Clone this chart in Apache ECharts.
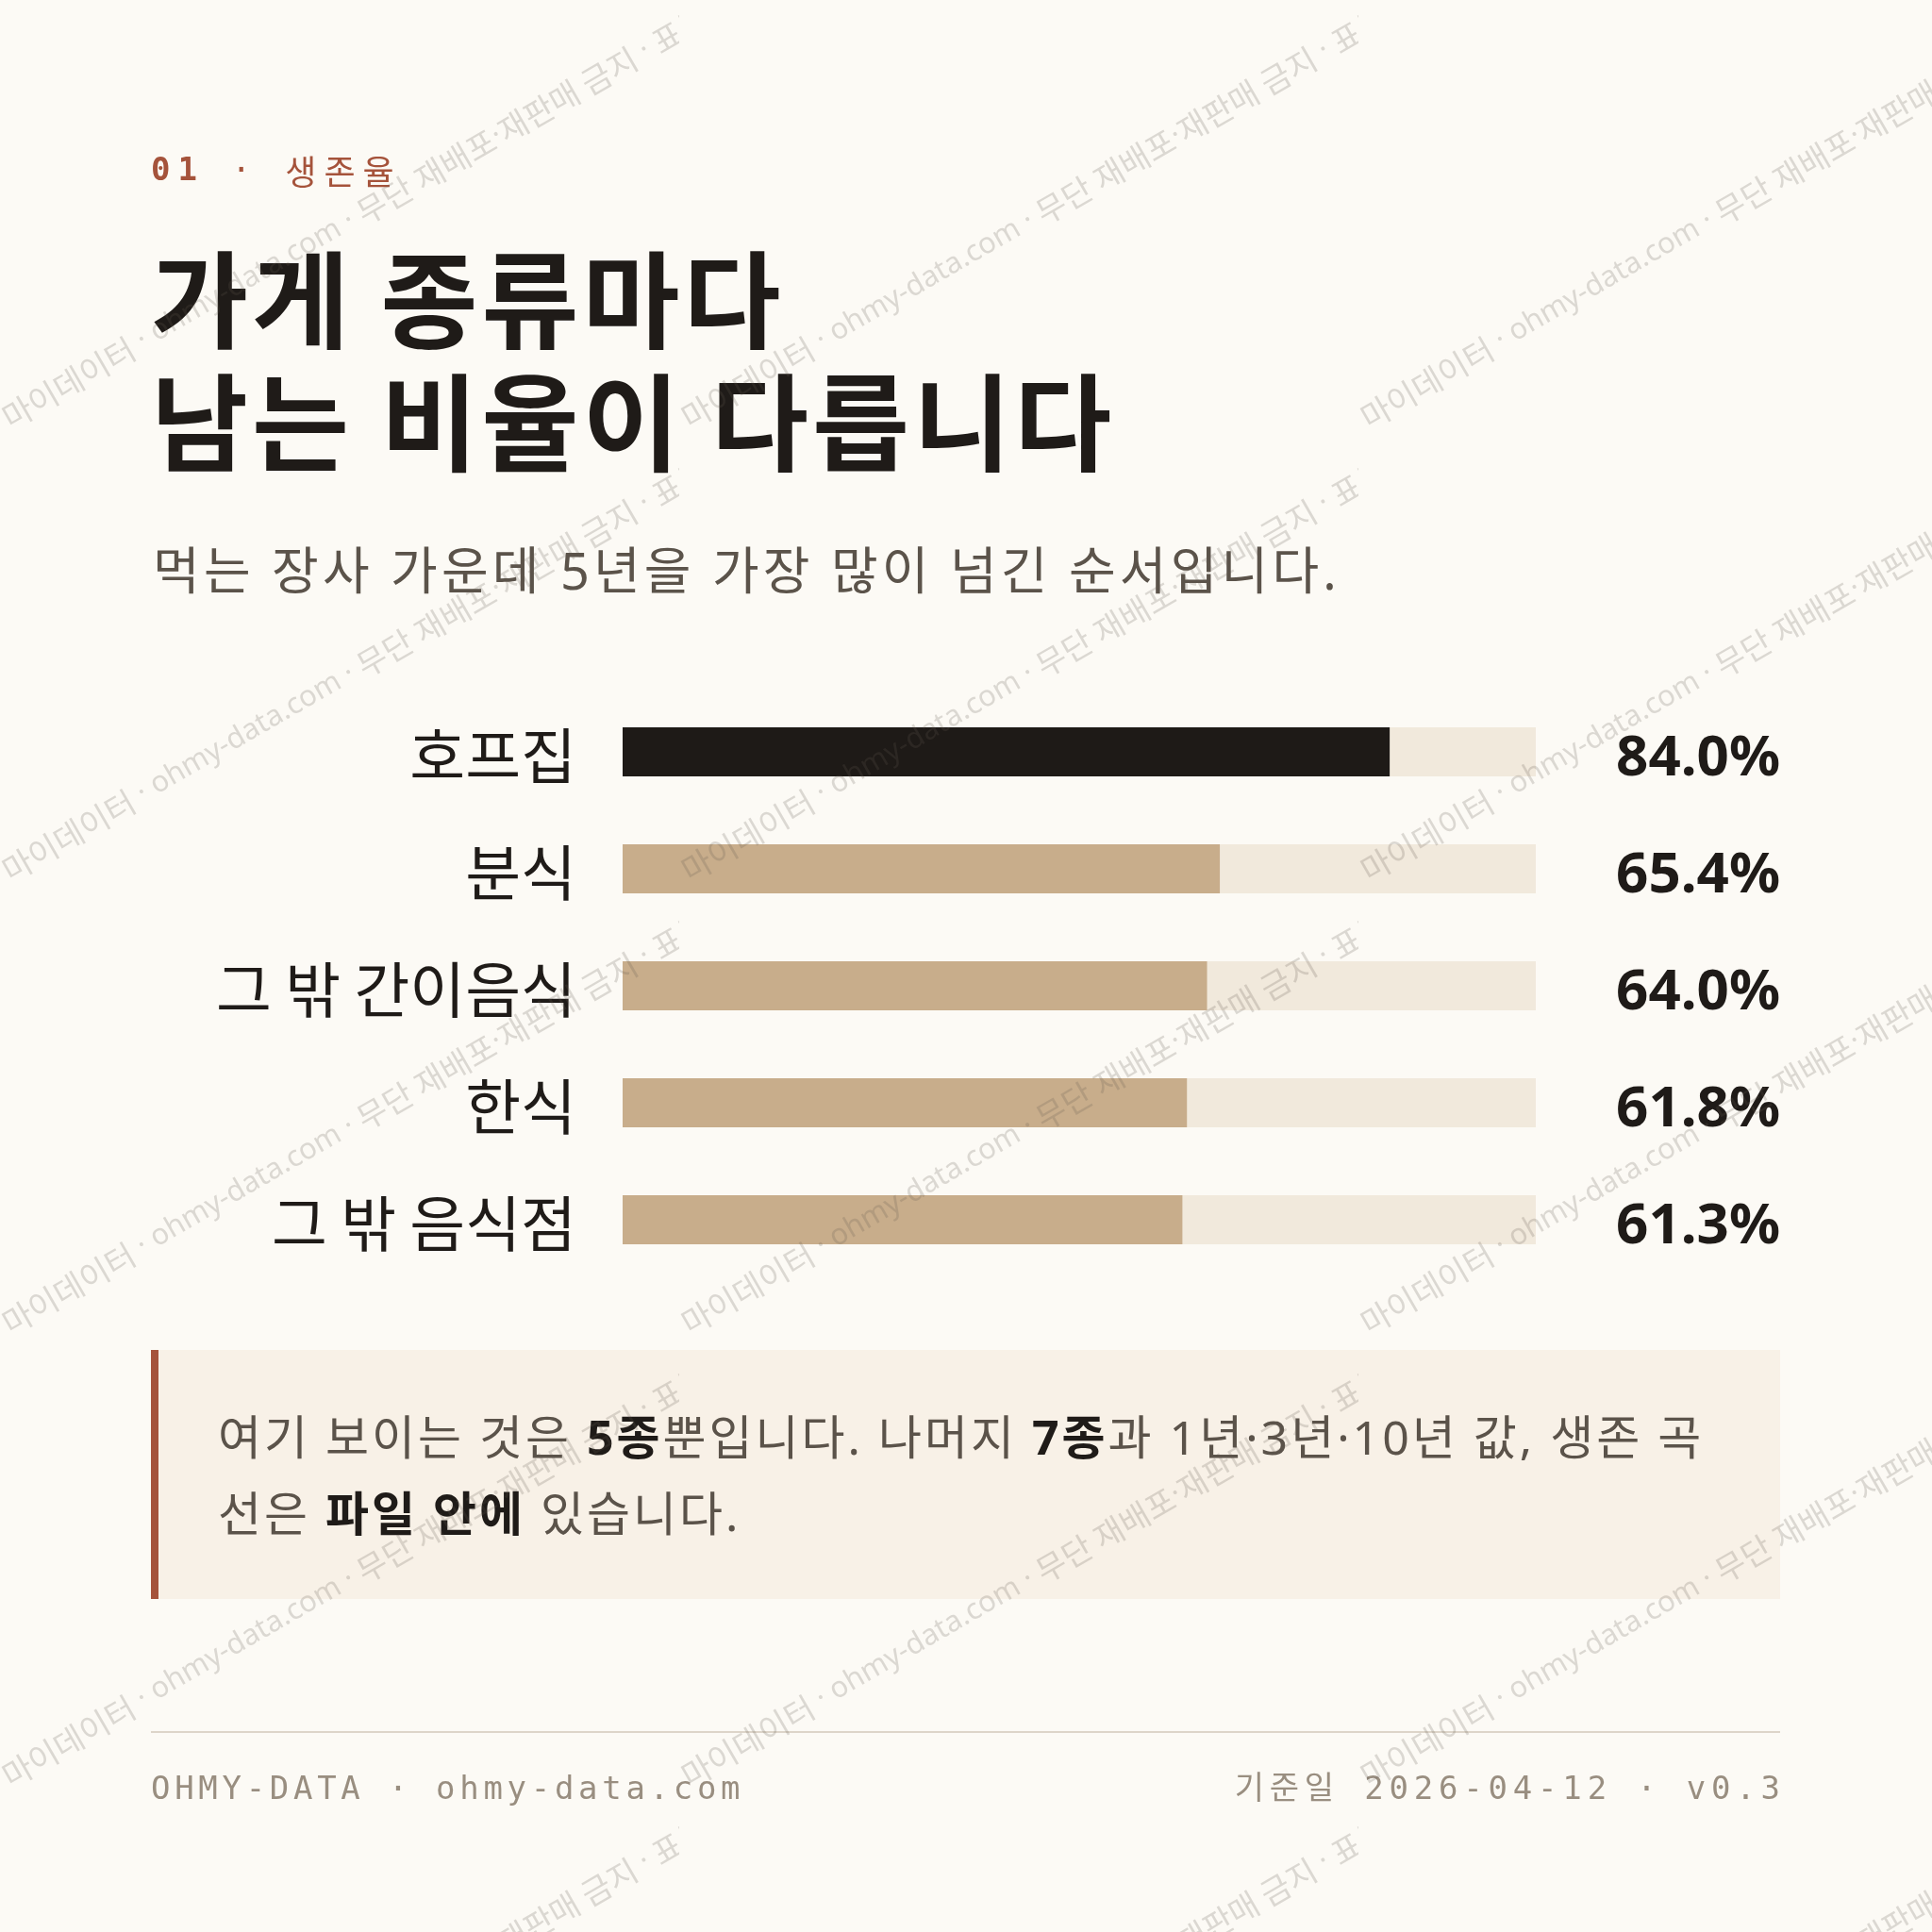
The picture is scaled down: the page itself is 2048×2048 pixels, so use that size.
<!DOCTYPE html>
<html>
<head>
<meta charset="utf-8">
<script src="https://cdn.jsdelivr.net/npm/echarts@6/dist/echarts.min.js"></script>
<style>
html,body{margin:0;padding:0;background:#fcfaf5;}
#chart{width:2048px;height:2048px;}
</style>
</head>
<body>
<div id="chart"></div>
<script>
// ---- data ----
const categories = ['호프집', '분식', '그 밖 간이음식', '한식', '그 밖 음식점'];
const values = [84.0, 65.4, 64.0, 61.8, 61.3];
const highlightIndex = 0;
const axisMax = 100;

const kicker = ['01', ' · ', '생존율'];
const titleLines = ['가게 종류마다', '남는 비율이 다릅니다'];
const subtitle = '먹는 장사 가운데 5년을 가장 많이 넘긴 순서입니다.';
const noteLine1 = [['n', '여기 보이는 것은 '], ['b', '5종'], ['n', '뿐입니다. 나머지 '], ['b', '7종'], ['n', '과 1년·3년·10년 값, 생존 곡']];
const noteLine2 = [['n', '선은 '], ['b', '파일 안에'], ['n', ' 있습니다.']];
const footerLeft = 'OHMY-DATA · ohmy-data.com';
const footerRight = '기준일 2026-04-12 · v0.3';
const watermarkText = '· 마이데이터 · ohmy-data.com · 무단 재배포·재판매 금지 · 표본';

// ---- helpers ----
const KR = '"Noto Sans", "Noto Sans CJK KR", sans-serif';
const MONO = '"DejaVu Sans Mono", "Noto Sans CJK KR", monospace';
const mctx = document.createElement('canvas').getContext('2d');
function measure(t, font) { mctx.font = font; return mctx.measureText(t).width; }

// letter-spaced text built char by char
function spacedText(parts, x, y, spacing, align) {
  const items = [];
  let cx = 0;
  parts.forEach(p => {
    for (const ch of p.text) {
      const w = measure(ch, p.font);
      items.push({ ch, x: cx, font: p.font, color: p.color });
      cx += w + spacing;
    }
  });
  const total = cx - spacing;
  const x0 = align === 'right' ? x - total : x;
  return items.filter(it => it.ch !== ' ').map(it => ({
    type: 'text', silent: true,
    style: { x: x0 + it.x, y, text: it.ch, font: it.font, fill: it.color, verticalAlign: 'middle', align: 'left' }
  }));
}

const noteFonts = {
  n: { font: '50px ' + KR, color: '#5b534a' },
  b: { font: 'bold 50px ' + KR, color: '#1f1b18' }
};
function noteParts(segs) { return segs.map(s => ({ text: s[1], font: noteFonts[s[0]].font, color: noteFonts[s[0]].color })); }

// watermark tile
const tile = document.createElement('canvas');
tile.width = 720; tile.height = 480;
(function () {
  const c = tile.getContext('2d');
  c.translate(360, 240);
  c.rotate(-Math.PI / 6);
  c.fillStyle = 'rgba(100,90,80,0.21)';
  c.textBaseline = 'middle';
  const latin = '31px "Noto Sans"';
  const hangul = '34px "Noto Sans CJK KR"';
  const chars = Array.from(watermarkText).map(ch => ({ ch, font: /[\uAC00-\uD7A3]/.test(ch) ? hangul : latin }));
  c.font = latin;
  const widthPre = c.measureText('· ').width;
  let x = -410 - widthPre;
  chars.forEach(o => { c.font = o.font; c.fillText(o.ch, x, 0); x += c.measureText(o.ch).width; });
})();

// ---- chart ----
const chart = echarts.init(document.getElementById('chart'), null, { renderer: 'canvas', width: 2048, height: 2048 });

const graphics = [];
graphics.push(...spacedText([
  { text: kicker[0], font: 'bold 34px ' + MONO, color: '#a5533b' },
  { text: kicker[1], font: '34px ' + MONO, color: '#a5533b' },
  { text: kicker[2], font: '36px "Noto Sans CJK KR"', color: '#a5533b' }
], 160, 182, 8, 'left'));
titleLines.forEach((t, i) => graphics.push(...spacedText(
  [{ text: t, font: 'bold 112px "Noto Sans CJK KR"', color: '#1f1b18' }], 160, 318 + i * 130, 4, 'left')));
graphics.push(...spacedText([{ text: subtitle, font: '54px ' + KR, color: '#5b534a' }], 162, 610, 4.2, 'left'));
graphics.push({ type: 'rect', silent: true, shape: { x: 160, y: 1431, width: 1727, height: 264 }, style: { fill: '#f8f1e7' } });
graphics.push({ type: 'rect', silent: true, shape: { x: 160, y: 1431, width: 8, height: 264 }, style: { fill: '#a5533b' } });
graphics.push(...spacedText(noteParts(noteLine1), 231, 1528, 3, 'left'));
graphics.push(...spacedText(noteParts(noteLine2), 231, 1609, 3, 'left'));
graphics.push({ type: 'line', silent: true, shape: { x1: 160, y1: 1836, x2: 1887, y2: 1836 }, style: { stroke: '#ddd5c9', lineWidth: 2 } });
graphics.push(...spacedText([{ text: footerLeft, font: '34px ' + MONO, color: '#998e80' }], 160, 1898, 4.7, 'left'));
graphics.push(...spacedText([{ text: footerRight, font: '34px ' + MONO, color: '#998e80' }], 1887, 1898, 5.8, 'right'));
graphics.push({
  type: 'rect', silent: true, z: 100,
  shape: { x: 0, y: 0, width: 2048, height: 2048 },
  style: { fill: { image: tile, repeat: 'repeat' } }
});

const option = {
  backgroundColor: '#fcfaf5',
  animation: false,
  grid: { left: 660, right: 420, top: 735, height: 620, containLabel: false },
  xAxis: { type: 'value', min: 0, max: axisMax, show: false },
  yAxis: [
    {
      type: 'category', data: categories, inverse: true,
      axisLine: { show: false }, axisTick: { show: false }, splitLine: { show: false },
      axisLabel: { fontSize: 64, color: '#1f1b18', margin: 49, fontFamily: 'Noto Sans CJK KR', verticalAlign: 'top', lineHeight: 8 }
    },
    {
      type: 'category', data: values.map(v => v.toFixed(1) + '%'), inverse: true, position: 'right',
      axisLine: { show: false }, axisTick: { show: false }, splitLine: { show: false },
      axisLabel: { fontSize: 60, fontWeight: 'bold', color: '#1f1b18', margin: 259, align: 'right', fontFamily: 'Noto Sans', verticalAlign: 'top', lineHeight: 16 }
    }
  ],
  series: [{
    type: 'bar', yAxisIndex: 0, barWidth: 52, silent: true,
    showBackground: true, backgroundStyle: { color: '#f1e9dc' },
    data: values.map((v, i) => ({ value: v, itemStyle: { color: i === highlightIndex ? '#1e1a17' : '#c8ad8b' } }))
  }],
  graphic: { elements: graphics }
};
chart.setOption(option);
</script>
</body>
</html>
